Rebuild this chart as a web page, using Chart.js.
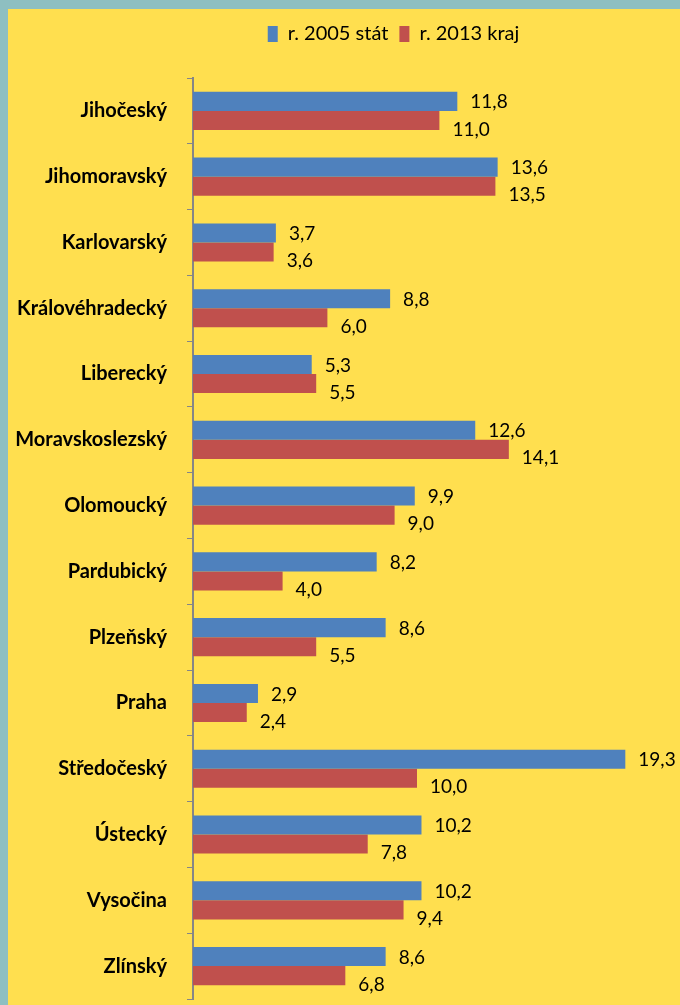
<!DOCTYPE html>
<html>
<head>
<meta charset="utf-8">
<script src="https://cdn.jsdelivr.net/npm/chart.js@4.4.1/dist/chart.umd.min.js"></script>
<style>
html, body { margin: 0; padding: 0; background: #8EBFC1; }
#wrap { position: absolute; left: 8px; top: 9px; width: 672px; height: 996px; background: #FFDF4F; }
canvas { display: block; }
</style>
</head>
<body>
<div id="wrap"><canvas id="chart" width="672" height="996"></canvas></div>
<script>
var regions = ["Jihočeský", "Jihomoravský", "Karlovarský", "Královéhradecký", "Liberecký",
    "Moravskoslezský", "Olomoucký", "Pardubický", "Plzeňský", "Praha",
    "Středočeský", "Ústecký", "Vysočina", "Zlínský"];
var values2005 = [11.8, 13.6, 3.7, 8.8, 5.3, 12.6, 9.9, 8.2, 8.6, 2.9, 19.3, 10.2, 10.2, 8.6];
var values2013 = [11.0, 13.5, 3.6, 6.0, 5.5, 14.1, 9.0, 4.0, 5.5, 2.4, 10.0, 7.8, 9.4, 6.8];
var seriesNames = ["r. 2005 stát", "r. 2013 kraj"];

var FONT = "Lato, 'Open Sans', sans-serif";

// value labels to the right of each bar, red ones sit a bit lower
var valueLabels = {
    id: "valueLabels",
    afterDatasetsDraw: function(chart) {
        var ctx = chart.ctx;
        ctx.save();
        ctx.font = "19px " + FONT;
        ctx.fillStyle = "#000";
        ctx.textBaseline = "middle";
        ctx.textAlign = "left";
        chart.data.datasets.forEach(function(ds, i) {
            var meta = chart.getDatasetMeta(i);
            meta.data.forEach(function(bar, j) {
                var txt = ds.data[j].toFixed(1).replace(".", ",");
                var dy = i === 0 ? 1 : 9;
                ctx.fillText(txt, bar.x + 13, bar.y + dy);
            });
        });
        ctx.restore();
    }
};

// legend sits right of centre in the original
var legendShift = {
    id: "legendShift",
    afterLayout: function(chart) {
        chart.legend.left += 69;
        chart.legend.right += 69;
    }
};

new Chart(document.getElementById("chart"), {
    type: "bar",
    data: {
        labels: regions,
        datasets: [
            { label: seriesNames[0], data: values2005, backgroundColor: "#4F81BD" },
            { label: seriesNames[1], data: values2013, backgroundColor: "#C0504D" }
        ]
    },
    options: {
        indexAxis: "y",
        responsive: false,
        animation: false,
        categoryPercentage: 0.58,
        barPercentage: 1.0,
        layout: { padding: { left: 0, right: 39, top: 4, bottom: 6 } },
        plugins: {
            legend: {
                position: "top",
                labels: {
                    boxWidth: 10,
                    boxHeight: 16,
                    padding: 11,
                    color: "#000",
                    font: { family: FONT, size: 20 }
                }
            },
            tooltip: { enabled: false }
        },
        scales: {
            x: {
                position: "top",
                min: 0,
                max: 20,
                ticks: { display: false },
                grid: { display: false },
                border: { display: false },
                afterFit: function(s) { s.height = 24; }
            },
            y: {
                ticks: {
                    color: "#000",
                    padding: 20,
                    font: { family: FONT, size: 20, weight: "bold" }
                },
                grid: {
                    offset: true,
                    drawOnChartArea: false,
                    tickLength: 6,
                    color: "#868686"
                },
                border: { color: "#868686", width: 2 },
                afterFit: function(s) {
                    s.width = 185;
                    s.paddingTop = 0;
                    s.paddingBottom = 0;
                }
            }
        }
    },
    plugins: [valueLabels, legendShift]
});
</script>
</body>
</html>
